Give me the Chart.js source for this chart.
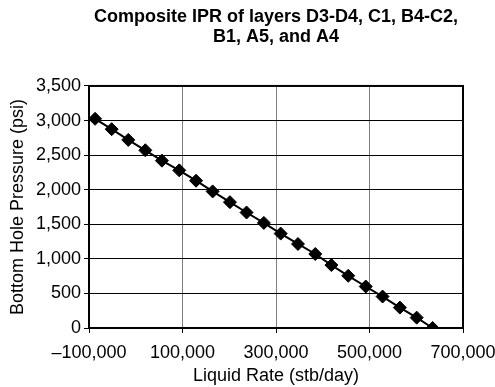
<!DOCTYPE html>
<html>
<head>
<meta charset="utf-8">
<script src="https://cdn.jsdelivr.net/npm/chart.js@4.4.1/dist/chart.umd.min.js"></script>
<style>
  html, body { margin: 0; padding: 0; background: #fff; }
  #wrap { width: 495px; height: 387px; }
</style>
</head>
<body>
<div id="wrap"><canvas id="ipr" width="495" height="387"></canvas></div>
<script>
// Composite IPR values
const LIQUID_RATE = [
    -87000, -51500, -16000, 20500, 56000, 93000, 129000, 164500, 201500, 237000,
    274000, 310000, 347000, 384000, 418500, 454500, 492000, 528000, 565000, 601000, 635000,
];
const BHP = [
    3025, 2875, 2720, 2570, 2420, 2280, 2130, 1975, 1820, 1670,
    1520, 1365, 1215, 1070, 910, 755, 600, 455, 295, 150, 0,
];
const TITLE_LINES = ['Composite IPR of layers D3-D4, C1, B4-C2,', 'B1, A5, and A4'];
const X_TITLE = 'Liquid Rate (stb/day)';
const Y_TITLE = 'Bottom Hole Pressure (psi)';

const FONT = "Arial, 'Liberation Sans', sans-serif";

function fmt(v) {
    const s = Math.abs(v).toLocaleString('en-US');
    return v < 0 ? '\u2013' + s : s;
}

// thick frame around the plot area
const frame = {
    id: 'frame',
    afterDraw(chart) {
        const { ctx, chartArea: a } = chart;
        ctx.save();
        ctx.strokeStyle = '#000';
        ctx.lineWidth = 2;
        ctx.strokeRect(a.left, a.top, a.right - a.left, a.bottom - a.top);
        ctx.restore();
    },
};

new Chart(document.getElementById('ipr'), {
    type: 'scatter',
    data: {
        datasets: [{
            data: LIQUID_RATE.map((x, i) => ({ x, y: BHP[i] })),
            showLine: true,
            borderColor: '#000',
            borderWidth: 2,
            pointStyle: 'rectRot',
            pointRadius: 6.5,
            pointBackgroundColor: '#000',
            pointBorderColor: '#000',
            pointBorderWidth: 1,
        }],
    },
    options: {
        responsive: false,
        animation: false,
        layout: { padding: { left: 7, right: 32, top: 0, bottom: 0 } },
        plugins: {
            legend: { display: false },
            tooltip: { enabled: false },
            title: {
                display: true,
                fullSize: false,
                text: TITLE_LINES,
                color: '#000',
                font: { family: FONT, size: 18, weight: 'bold', lineHeight: 1.11 },
                padding: { top: 7, bottom: 39 },
            },
        },
        scales: {
            x: {
                type: 'linear',
                min: -100000,
                max: 700000,
                afterFit(scale) {
                    scale.paddingLeft = 0;
                    scale.paddingRight = 0;
                    scale.height = 59;
                },
                ticks: {
                    stepSize: 200000,
                    color: '#000',
                    font: { family: FONT, size: 18 },
                    padding: 9,
                    maxRotation: 0,
                    callback: v => fmt(v),
                },
                grid: { color: '#808080', lineWidth: 1, tickLength: 5, tickColor: '#000' },
                border: { display: false },
                title: { display: true, text: X_TITLE, color: '#000', font: { family: FONT, size: 18 }, padding: { top: 0, bottom: 0 } },
            },
            y: {
                min: 0,
                max: 3500,
                afterFit(scale) {
                    scale.width = 82;
                },
                ticks: {
                    stepSize: 500,
                    color: '#000',
                    font: { family: FONT, size: 18 },
                    padding: 3,
                    callback: v => fmt(v),
                },
                grid: { color: '#000', lineWidth: 1, tickLength: 5, tickColor: '#000' },
                border: { display: false },
                title: { display: true, text: Y_TITLE, color: '#000', font: { family: FONT, size: 18 }, padding: { top: 0, bottom: 2 } },
            },
        },
    },
    plugins: [frame],
});
</script>
</body>
</html>
